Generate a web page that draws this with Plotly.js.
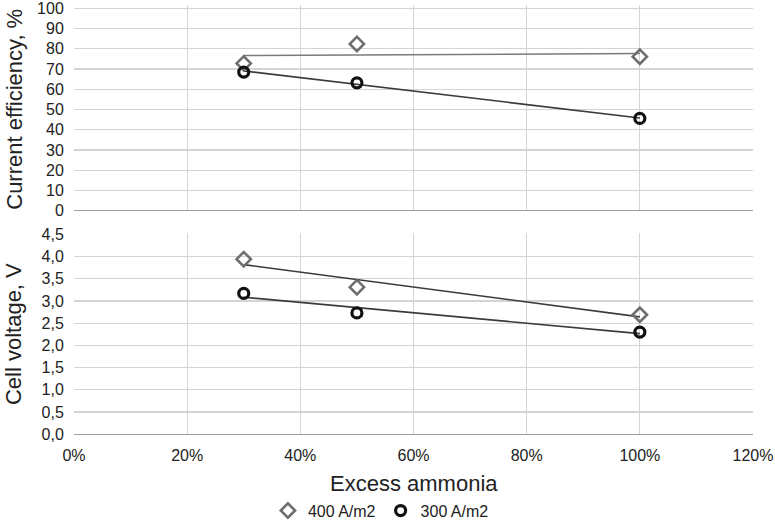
<!DOCTYPE html>
<html><head><meta charset="utf-8">
<script src="https://cdn.plot.ly/plotly-3.0.1.min.js"></script>
<style>html,body{margin:0;padding:0;background:#fff}#c{width:775px;height:520px}</style>
</head><body><div id="c"></div>
<script>
const excess = [0.30, 0.50, 1.00];
const effic400 = [72.8, 82.4, 76.1];
const effic300 = [68.5, 63.2, 45.6];
const volt400 = [3.94, 3.31, 2.69];
const volt300 = [3.17, 2.73, 2.30];
const seriesNames = ['400 A/m2', '300 A/m2'];
const axisTitles = ['Current efficiency, %', 'Cell voltage, V', 'Excess ammonia'];
const xTicks = [0, 0.2, 0.4, 0.6, 0.8, 1.0, 1.2];
const effTicks = [0, 10, 20, 30, 40, 50, 60, 70, 80, 90, 100];
const voltTicks = [0, 0.5, 1.0, 1.5, 2.0, 2.5, 3.0, 3.5, 4.0, 4.5];

function fit(x, y) {
  const n = x.length;
  const mx = x.reduce((a, b) => a + b, 0) / n;
  const my = y.reduce((a, b) => a + b, 0) / n;
  let sxy = 0, sxx = 0;
  for (let i = 0; i < n; i++) { sxy += (x[i] - mx) * (y[i] - my); sxx += (x[i] - mx) ** 2; }
  const b = sxy / sxx, a = my - b * mx;
  const xs = [Math.min(...x), Math.max(...x)];
  return { x: xs, y: xs.map(v => a + b * v) };
}

const F = 'Liberation Sans, Arial, sans-serif';
const diamond = { symbol: 'diamond-open', size: 11, color: '#6e6e6e', line: { width: 2.6, color: '#6e6e6e' } };
const circle = { symbol: 'circle-open', size: 10, color: '#111', line: { width: 3.2, color: '#111' } };

const t1 = fit(excess, effic400), t2 = fit(excess, effic300), t3 = fit(excess, volt400), t4 = fit(excess, volt300);
const traces = [
  { x: t1.x, y: t1.y, xaxis: 'x2', yaxis: 'y2', mode: 'lines', line: { color: '#7a7a7a', width: 1.6 }, showlegend: false, hoverinfo: 'skip' },
  { x: t2.x, y: t2.y, xaxis: 'x2', yaxis: 'y2', mode: 'lines', line: { color: '#3a3a3a', width: 1.6 }, showlegend: false, hoverinfo: 'skip' },
  { x: t3.x, y: t3.y, xaxis: 'x', yaxis: 'y', mode: 'lines', line: { color: '#3a3a3a', width: 1.6 }, showlegend: false, hoverinfo: 'skip' },
  { x: t4.x, y: t4.y, xaxis: 'x', yaxis: 'y', mode: 'lines', line: { color: '#3a3a3a', width: 1.6 }, showlegend: false, hoverinfo: 'skip' },
  { x: excess, y: effic400, xaxis: 'x2', yaxis: 'y2', mode: 'markers', marker: diamond, name: seriesNames[0], legendgroup: 'a', showlegend: true },
  { x: excess, y: effic300, xaxis: 'x2', yaxis: 'y2', mode: 'markers', marker: circle, name: seriesNames[1], legendgroup: 'b', showlegend: true },
  { x: excess, y: volt400, xaxis: 'x', yaxis: 'y', mode: 'markers', marker: diamond, name: seriesNames[0], legendgroup: 'a', showlegend: false },
  { x: excess, y: volt300, xaxis: 'x', yaxis: 'y', mode: 'markers', marker: circle, name: seriesNames[1], legendgroup: 'b', showlegend: false }
];

const grid = '#d4d4d4';
const tickFont = { family: F, size: 16, color: '#222' };
const titleFont = { family: F, size: 22, color: '#222' };
const topDom = [0.5948, 0.9898], botDom = [0.1648, 0.5512];
const layout = {
  width: 775, height: 520,
  margin: { l: 74, r: 22, t: 0, b: 0, autoexpand: false },
  paper_bgcolor: '#fff', plot_bgcolor: '#fff',
  separators: ', ',
  showlegend: true,
  legend: { orientation: 'h', x: 0.452, xanchor: 'center', y: 0.018, yanchor: 'middle', font: { family: F, size: 16, color: '#222' }, itemwidth: 30, traceorder: 'normal', bgcolor: 'rgba(0,0,0,0)', tracegroupgap: 0 },
  xaxis: { domain: [0, 1], range: [0, 1.2], tickvals: xTicks, tickformat: '.0%', showgrid: true, gridcolor: grid, gridwidth: 1.2, zeroline: false, showline: false, ticks: 'outside', ticklen: 6, tickcolor: 'rgba(0,0,0,0)', tickfont: tickFont, anchor: 'y', automargin: false, ticklabeloverflow: 'allow' },
  yaxis: { domain: botDom, range: [0, 4.52], tickvals: voltTicks, tickformat: '.1f', showgrid: true, gridcolor: grid, gridwidth: 1.2, zeroline: true, zerolinecolor: '#a0a0a0', zerolinewidth: 1.3, showline: false, ticks: 'outside', ticklen: 6, tickcolor: 'rgba(0,0,0,0)', tickfont: tickFont, anchor: 'x', automargin: false, ticklabeloverflow: 'allow' },
  xaxis2: { domain: [0, 1], range: [0, 1.2], tickvals: xTicks, showticklabels: false, showgrid: true, gridcolor: grid, gridwidth: 1.2, zeroline: false, showline: false, anchor: 'y2', matches: 'x', automargin: false },
  yaxis2: { domain: topDom, range: [0, 101.5], tickvals: effTicks, showgrid: true, gridcolor: grid, gridwidth: 1.2, zeroline: true, zerolinecolor: '#a0a0a0', zerolinewidth: 1.3, showline: false, ticks: 'outside', ticklen: 6, tickcolor: 'rgba(0,0,0,0)', tickfont: tickFont, anchor: 'x2', automargin: false, ticklabeloverflow: 'allow' },
  annotations: [
    { text: axisTitles[0], xref: 'paper', yref: 'paper', x: -0.088, y: 0.7894, xanchor: 'center', yanchor: 'middle', textangle: -90, showarrow: false, font: titleFont },
    { text: axisTitles[1], xref: 'paper', yref: 'paper', x: -0.088, y: (botDom[0] + botDom[1]) / 2, xanchor: 'center', yanchor: 'middle', textangle: -90, showarrow: false, font: titleFont },
    { text: axisTitles[2], xref: 'paper', yref: 'paper', x: 0.5, y: 0.071, xanchor: 'center', yanchor: 'middle', showarrow: false, font: titleFont }
  ]
};
Plotly.newPlot('c', traces, layout, { displayModeBar: false, staticPlot: true });
</script>
</body></html>
